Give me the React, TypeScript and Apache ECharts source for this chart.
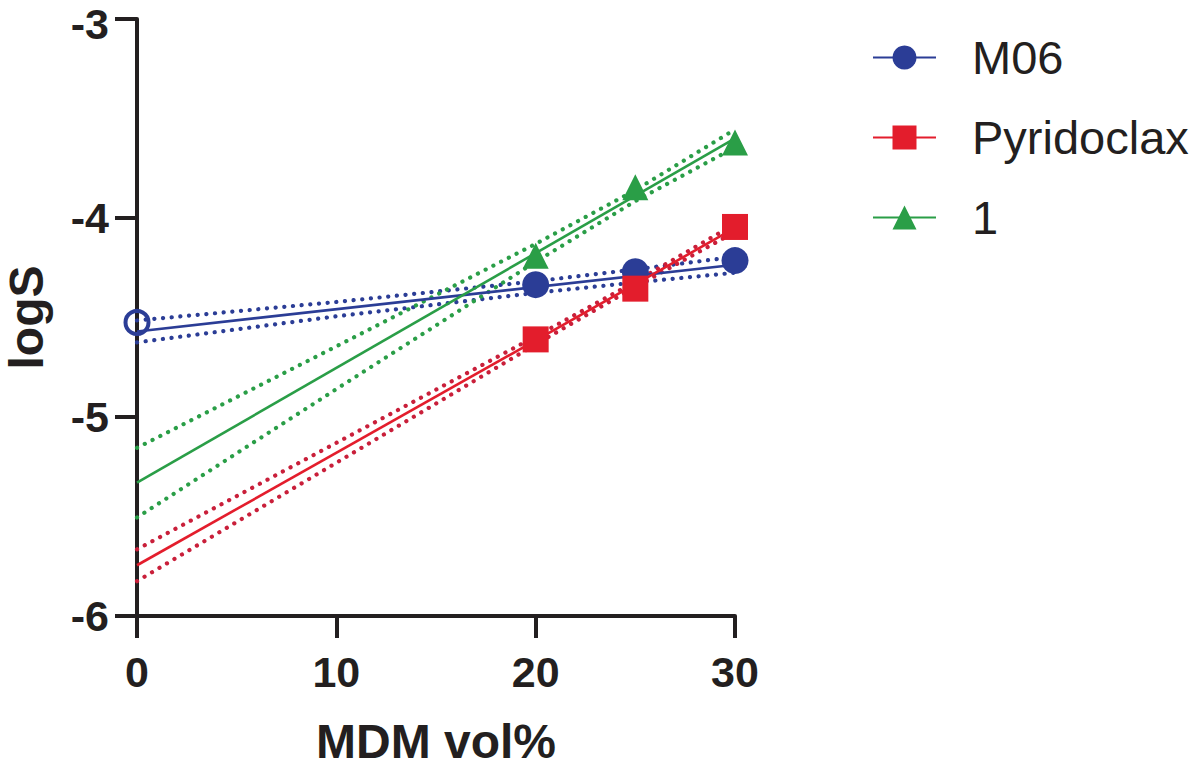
import React, { useEffect, useRef } from "react";
import * as echarts from "echarts";

// ---- data ----
const xTicks = [0, 10, 20, 25, 30];
const fitX = [0, 30];

const m06X = [0, 20, 25, 30];
const m06Values = [-4.525, -4.335, -4.27, -4.214];
const m06Fit = [-4.57, -4.235];
const m06Upper = [-4.515, -4.422, -4.318, -4.258, -4.195];
const m06Lower = [-4.625, -4.494, -4.376, -4.324, -4.275];

const pyrX = [20, 25, 30];
const pyrValues = [-4.61, -4.355, -4.045];
const pyrFit = [-5.745, -4.05];
const pyrUpper = [-5.665, -5.13, -4.595, -4.32, -4.03];
const pyrLower = [-5.825, -5.23, -4.635, -4.346, -4.07];

const c1X = [20, 25, 30];
const c1Values = [-4.19, -3.845, -3.62];
const c1Fit = [-5.33, -3.6];
const c1Upper = [-5.155, -4.645, -4.13, -3.86, -3.555];
const c1Lower = [-5.505, -4.86, -4.22, -3.915, -3.645];

const seriesNames = ["M06", "Pyridoclax", "1"];
const yMax = -3;

const BLUE = "#2B3D96";
const RED = "#E31D2C";
const RED_DOT = "#C91F3A";
const GREEN = "#2A9E47";
const INK = "#231F20";
const FONT = "'Liberation Sans', Arial, Helvetica, sans-serif";

const zip = (xs: number[], ys: number[]) => xs.map((x, i) => [x, ys[i]]);

export default function App() {
  const ref = useRef<HTMLDivElement>(null);
  useEffect(() => {
    if (!ref.current) return;
    const chart = echarts.init(ref.current, null, { renderer: "svg" });

    const fitSeries = (name: string, ys: number[], color: string, symbol: string) => ({
      type: "line",
      name,
      data: zip(fitX, ys),
      symbol,
      showSymbol: false,
      color,
      lineStyle: { color, width: 2.6 },
      z: 3,
      silent: true,
    });
    const bandSeries = (name: string, ys: number[], color: string) => ({
      type: "line",
      name,
      data: zip(xTicks, ys),
      symbol: "none",
      lineStyle: { color, width: 4.2, type: [0.1, 8.6], cap: "round" },
      z: 2,
      silent: true,
    });

    const yLabelStyle = {
      fontSize: 43,
      fontWeight: "bold",
      fontFamily: FONT,
      color: INK,
      lineHeight: 28,
    };

    const option: any = {
      animation: false,
      backgroundColor: "#ffffff",
      grid: {
        left: 137,
        right: 465,
        top: 19,
        bottom: 150,
        containLabel: false,
        outerBoundsMode: "none",
      },
      legend: {
        data: seriesNames,
        orient: "vertical",
        left: 867,
        top: 29,
        itemWidth: 63,
        itemHeight: 30,
        itemGap: 33,
        selectedMode: false,
        textStyle: {
          fontSize: 47,
          fontFamily: FONT,
          color: INK,
          lineHeight: 47,
          padding: [0, 0, 0, 31],
        },
      },
      xAxis: {
        type: "value",
        min: 0,
        max: 30,
        interval: 10,
        name: "MDM vol%",
        nameLocation: "middle",
        nameGap: 106,
        nameTextStyle: {
          fontSize: 48,
          fontWeight: "bold",
          fontFamily: FONT,
          color: INK,
          lineHeight: 38,
        },
        axisLine: { lineStyle: { color: INK, width: 4 } },
        axisTick: { length: 22, lineStyle: { color: INK, width: 4 } },
        axisLabel: { fontSize: 43, fontWeight: "bold", fontFamily: FONT, color: INK, margin: 34 },
        splitLine: { show: false },
      },
      yAxis: {
        type: "value",
        min: -6,
        max: yMax,
        interval: 1,
        name: "logS",
        nameLocation: "middle",
        nameGap: 92,
        nameRotate: 90,
        nameTextStyle: {
          fontSize: 48,
          fontWeight: "bold",
          fontFamily: FONT,
          color: INK,
          lineHeight: 38,
        },
        axisLine: { lineStyle: { color: INK, width: 4 } },
        axisTick: { length: 22, lineStyle: { color: INK, width: 4 } },
        axisLabel: {
          margin: 28,
          formatter: (v: number) => (v === yMax ? `{top|${v}}` : `{n|${v}}`),
          rich: {
            n: yLabelStyle,
            top: { ...yLabelStyle, padding: [10, 0, 0, 0] },
          },
        },
        splitLine: { show: false },
      },
      series: [
        fitSeries(seriesNames[0], m06Fit, BLUE, "circle"),
        fitSeries(seriesNames[1], pyrFit, RED, "rect"),
        fitSeries(seriesNames[2], c1Fit, GREEN, "triangle"),
        bandSeries("M06 upper", m06Upper, BLUE),
        bandSeries("M06 lower", m06Lower, BLUE),
        bandSeries("Pyridoclax upper", pyrUpper, RED_DOT),
        bandSeries("Pyridoclax lower", pyrLower, RED_DOT),
        bandSeries("1 upper", c1Upper, GREEN),
        bandSeries("1 lower", c1Lower, GREEN),
        {
          type: "scatter",
          name: seriesNames[0],
          symbol: "circle",
          symbolSize: 27,
          itemStyle: { color: BLUE, opacity: 1 },
          z: 5,
          clip: false,
          data: zip(m06X, m06Values).map((d, i) =>
            i === 0
              ? {
                  value: d,
                  symbolSize: 23,
                  itemStyle: {
                    color: "rgba(255,255,255,0)",
                    borderColor: BLUE,
                    borderWidth: 4,
                    opacity: 1,
                  },
                }
              : { value: d }
          ),
        },
        {
          type: "scatter",
          name: seriesNames[1],
          symbol: "rect",
          symbolSize: 26,
          itemStyle: { color: RED, opacity: 1 },
          z: 5,
          data: zip(pyrX, pyrValues),
        },
        {
          type: "scatter",
          name: seriesNames[2],
          symbol: "triangle",
          symbolSize: 26,
          itemStyle: { color: GREEN, opacity: 1 },
          z: 5,
          data: zip(c1X, c1Values),
        },
      ],
    };
    chart.setOption(option);
    return () => chart.dispose();
  }, []);
  return (
    <div
      ref={ref}
      style={{ position: "fixed", left: 0, top: 0, width: 1200, height: 766, background: "#fff" }}
    />
  );
}
